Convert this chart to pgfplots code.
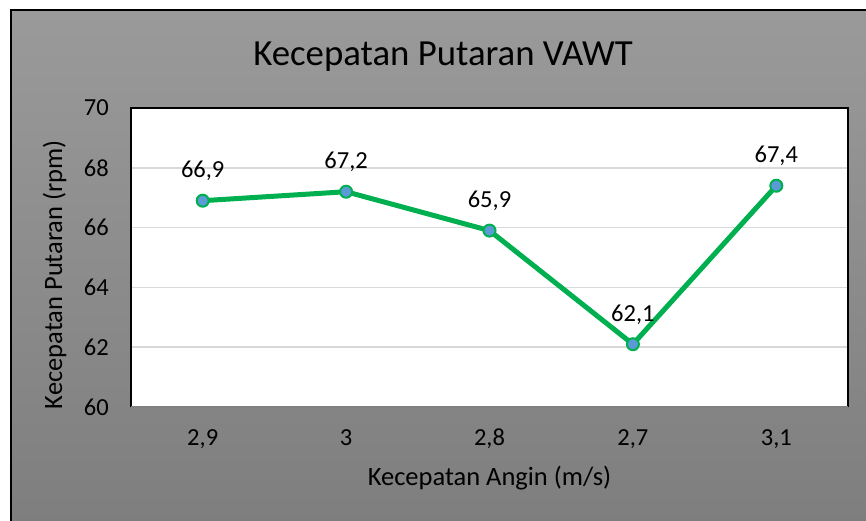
\documentclass[border=0pt]{standalone}
\usepackage{pgfplots}
\pgfplotsset{compat=1.18}
\usepackage{pgfplotstable}
\usepackage{fontspec}
\setmainfont{Carlito}
\definecolor{exgreen}{HTML}{00B050}
\definecolor{exblue}{HTML}{5B9BD5}
\definecolor{gridgray}{HTML}{D9D9D9}
\definecolor{bgtop}{HTML}{9A9A9A}
\definecolor{bgbot}{HTML}{7E7E7E}
\pgfplotstableread{
x y lab
0 66.9 {66,9}
1 67.2 {67,2}
2 65.9 {65,9}
3 62.1 {62,1}
4 67.4 {67,4}
}\datatable
\begin{document}
\begin{tikzpicture}[x=1pt,y=1pt]
\clip (0,0) rectangle (866,520);
\fill[white] (0,0) rectangle (866,520);
\shade[top color=bgtop, bottom color=bgbot] (11,-5) rectangle (875,510);
\draw[black, line width=1.5pt] (11,-5) -- (11,510) -- (875,510);
\node[anchor=base, font=\fontsize{36.8}{42}\selectfont] at (443,454) {Kecepatan Putaran VAWT};
\begin{axis}[
  at={(131pt,113pt)}, anchor=south west,
  scale only axis, width=717pt, height=299pt,
  xmin=-0.5, xmax=4.5, ymin=60, ymax=70,
  xtick={0,1,2,3,4},
  xticklabels={{2,9},{3},{2,8},{2,7},{3,1}},
  ytick={60,62,64,66,68,70},
  /pgf/number format/assume math mode=true,
  major tick length=0pt,
  axis background/.style={fill=white},
  axis line style={draw=none},
  ymajorgrids, grid style={gridgray, line width=1.5pt},
  tick label style={font=\fontsize{24.5}{28}\selectfont},
  xticklabel style={anchor=base, inner sep=0pt, yshift=-38pt},
  yticklabel style={anchor=east, inner sep=0pt, xshift=-22pt},
  xlabel={Kecepatan Angin (m/s)},
  ylabel={Kecepatan Putaran (rpm)},
  label style={font=\fontsize{26.5}{30}\selectfont},
  xlabel style={at={(axis description cs:0.5,-0.261)}, anchor=base, inner sep=0pt},
  ylabel style={at={(axis description cs:-0.096,0.443)}, anchor=base, rotate=0, inner sep=0pt},
  clip=false,
]
\addplot[exgreen, line width=5pt, mark=*, mark size=6pt,
  mark options={fill=exblue, draw=exgreen, line width=2pt},
  nodes near coords, point meta=explicit symbolic,
  every node near coord/.append style={anchor=base, yshift=23pt, inner sep=0pt, text=black, font=\fontsize{24.5}{28}\selectfont}]
  table[x=x, y=y, meta=lab] {\datatable};
\draw[black, line width=1.8pt] (rel axis cs:0,0) -- (rel axis cs:0,1) -- (rel axis cs:1,1) -- (rel axis cs:1,0);
\draw[gray, line width=1.8pt] (rel axis cs:0,0) -- (rel axis cs:1,0);
\end{axis}
\end{tikzpicture}
\end{document}
